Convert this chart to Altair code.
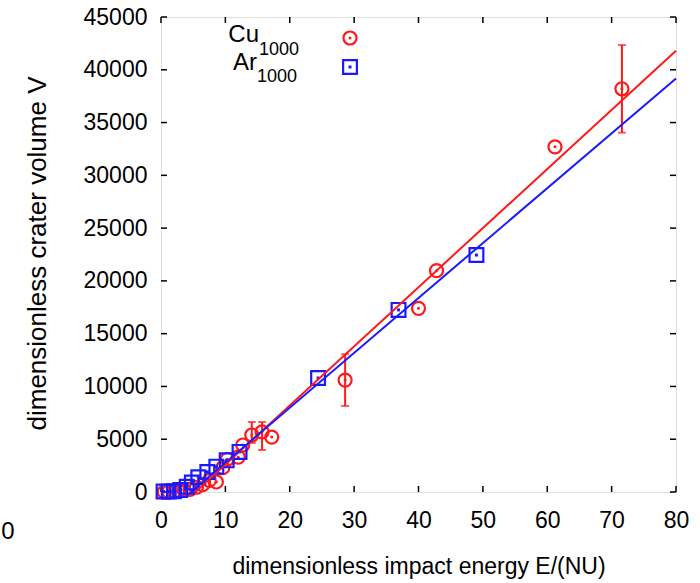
import altair as alt
import pandas as pd

# ---------------- data ----------------
cu_x = [0.5, 1.2, 2.0, 2.8, 3.6, 4.5, 5.5, 6.5, 7.5, 8.6, 9.6, 10.3, 12.0, 12.7,
        14.1, 15.7, 17.2, 28.6, 40.0, 42.8, 61.2, 71.6]
cu_y = [0, 20, 40, 80, 150, 250, 450, 700, 1100, 950, 2300, 3100, 3300, 4450,
        5400, 5700, 5200, 10600, 17400, 20970, 32700, 38200]

ar_x = [0.4, 1.2, 2.0, 3.0, 4.0, 4.8, 5.8, 7.2, 8.6, 10.2, 12.2, 24.4, 36.9, 49.0]
ar_y = [50, 50, 80, 200, 500, 900, 1400, 1900, 2400, 3000, 3800, 10800, 17250, 22450]

cu_err_x = [14.1, 15.7, 28.6, 71.6]
cu_err_lo = [4640, 3980, 8150, 34040]
cu_err_hi = [6630, 6630, 13050, 42350]

fit_series = ["Cu", "Ar"]
fit_slope = [560.0, 520.0]
fit_intercept = [-3000.0, -2420.0]
fit_x_max = 80

x_ticks = [0, 10, 20, 30, 40, 50, 60, 70, 80]
y_ticks = [0, 5000, 10000, 15000, 20000, 25000, 30000, 35000, 40000, 45000]

legend_main = ["Cu", "Ar"]
legend_sub = ["1000", "1000"]

# ---------------- styling ----------------
RED = "#ff1a1a"
BLUE = "#1a1aff"
FONT = "Liberation Sans"
W, H = 515, 475

cu_df = pd.DataFrame({"x": cu_x, "y": cu_y})
ar_df = pd.DataFrame({"x": ar_x, "y": ar_y})
err_df = pd.DataFrame({"x": cu_err_x, "lo": cu_err_lo, "hi": cu_err_hi})

fit_rows = []
for s, m, b in zip(fit_series, fit_slope, fit_intercept):
    fit_rows.append({"s": s, "x": -b / m, "y": 0.0})
    fit_rows.append({"s": s, "x": fit_x_max, "y": m * fit_x_max + b})
fit_df = pd.DataFrame(fit_rows)

xt_df = pd.DataFrame({"x": x_ticks})
yt_df = pd.DataFrame({"y": y_ticks})

x_scale = alt.Scale(domain=[0, 80], nice=False, zero=False)
y_scale = alt.Scale(domain=[0, 45000], nice=False, zero=False)

x_axis = alt.Axis(
    values=x_ticks, title="dimensionless impact energy E/(NU)",
    domain=False, ticks=False, grid=False,
    labelFont=FONT, labelFontSize=23, labelColor="black", labelPadding=17,
    labelFlush=False, labelOverlap=False, labelBound=False,
    titleFont=FONT, titleFontSize=23, titleFontWeight="normal", titleColor="black",
    titleX=W / 2, titleY=81, titleBaseline="alphabetic", titleAlign="center",
)
y_axis = alt.Axis(
    values=y_ticks, title="dimensionless crater volume V", format="d",
    domain=False, ticks=False, grid=False,
    labelFont=FONT, labelFontSize=23, labelColor="black", labelPadding=14,
    labelFlush=False, labelOverlap=False, labelBound=False,
    titleFont=FONT, titleFontSize=26, titleFontWeight="normal", titleColor="black",
    titleX=-116, titleY=236, titleAngle=270, titleBaseline="alphabetic", titleAlign="center",
)


def X(field="x"):
    return alt.X(field, type="quantitative", scale=x_scale, axis=x_axis)


def Y(field="y"):
    return alt.Y(field, type="quantitative", scale=y_scale, axis=y_axis)


# error bars (Cu)
err_rule = alt.Chart(err_df).mark_rule(color=RED, strokeWidth=2).encode(
    x=X(), y=Y("lo"), y2="hi")
err_cap_lo = alt.Chart(err_df).mark_tick(color=RED, orient="horizontal", size=8, thickness=2).encode(
    x=X(), y=Y("lo"))
err_cap_hi = alt.Chart(err_df).mark_tick(color=RED, orient="horizontal", size=8, thickness=2).encode(
    x=X(), y=Y("hi"))

cu_pts = alt.Chart(cu_df).mark_point(shape="circle", filled=False, size=170, strokeWidth=2.2,
                                     color=RED, opacity=1, clip=False).encode(x=X(), y=Y())
cu_dot = alt.Chart(cu_df).mark_point(shape="circle", filled=True, size=9,
                                     color=RED, opacity=1, clip=False).encode(x=X(), y=Y())
ar_pts = alt.Chart(ar_df).mark_point(shape="square", filled=False, size=190, strokeWidth=2.2,
                                     color=BLUE, opacity=1, clip=False).encode(x=X(), y=Y())
ar_dot = alt.Chart(ar_df).mark_point(shape="square", filled=True, size=9,
                                     color=BLUE, opacity=1, clip=False).encode(x=X(), y=Y())

fit_cu = alt.Chart(fit_df[fit_df.s == "Cu"]).mark_line(color=RED, strokeWidth=2).encode(x=X(), y=Y())
fit_ar = alt.Chart(fit_df[fit_df.s == "Ar"]).mark_line(color=BLUE, strokeWidth=2).encode(x=X(), y=Y())

# inward ticks on all four sides (gnuplot style)
tick_style = dict(color="black", strokeWidth=1.5)
xt_bottom = alt.Chart(xt_df).mark_rule(**tick_style).encode(x=X(), y=alt.value(H), y2=alt.value(H - 6))
xt_top = alt.Chart(xt_df).mark_rule(**tick_style).encode(x=X(), y=alt.value(0), y2=alt.value(6))
yt_left = alt.Chart(yt_df).mark_rule(**tick_style).encode(y=Y(), x=alt.value(0), x2=alt.value(6))
yt_right = alt.Chart(yt_df).mark_rule(**tick_style).encode(y=Y(), x=alt.value(W), x2=alt.value(W - 6))

# legend (inside the plot, top-left)
leg_main = alt.Chart(pd.DataFrame({"t": legend_main, "py": [25, 53], "px": [98, 96]})).mark_text(
    font=FONT, fontSize=24, align="right", baseline="alphabetic", color="black").encode(
    x=alt.X("px:Q", scale=None), y=alt.Y("py:Q", scale=None), text="t")
leg_sub = alt.Chart(pd.DataFrame({"t": legend_sub, "py": [38, 65], "px": [98, 96]})).mark_text(
    font=FONT, fontSize=18, align="left", baseline="alphabetic", color="black").encode(
    x=alt.X("px:Q", scale=None), y=alt.Y("py:Q", scale=None), text="t")
leg_cu = alt.Chart(pd.DataFrame({"k": ["Cu"]})).mark_point(
    shape="circle", filled=False, size=170, strokeWidth=2.2, color=RED, opacity=1).encode(
    x=alt.value(189), y=alt.value(21))
leg_cu_dot = alt.Chart(pd.DataFrame({"k": ["Cu"]})).mark_point(
    shape="circle", filled=True, size=9, color=RED, opacity=1).encode(
    x=alt.value(189), y=alt.value(21))
leg_ar = alt.Chart(pd.DataFrame({"k": ["Ar"]})).mark_point(
    shape="square", filled=False, size=190, strokeWidth=2.2, color=BLUE, opacity=1).encode(
    x=alt.value(189), y=alt.value(50))
leg_ar_dot = alt.Chart(pd.DataFrame({"k": ["Ar"]})).mark_point(
    shape="square", filled=True, size=9, color=BLUE, opacity=1).encode(
    x=alt.value(189), y=alt.value(50))

stray = alt.Chart(pd.DataFrame({"t": ["0"]})).mark_text(
    font=FONT, fontSize=24, align="center", baseline="middle", color="black").encode(
    x=alt.value(-153), y=alt.value(515), text="t")

chart = alt.layer(
    xt_bottom, xt_top, yt_left, yt_right,
    err_rule, err_cap_lo, err_cap_hi,
    cu_pts, cu_dot, ar_pts, ar_dot,
    fit_cu, fit_ar,
    leg_main, leg_sub, leg_cu, leg_cu_dot, leg_ar, leg_ar_dot,
    stray,
).properties(
    width=W, height=H,
    autosize=alt.AutoSizeParams(type="none"),
    padding={"left": 161, "top": 17, "right": 24, "bottom": 91},
).configure_view(
    stroke="black", strokeWidth=1.5
).configure(background="white")

chart.save("out.html", embed_options={"renderer": "svg", "actions": False})
